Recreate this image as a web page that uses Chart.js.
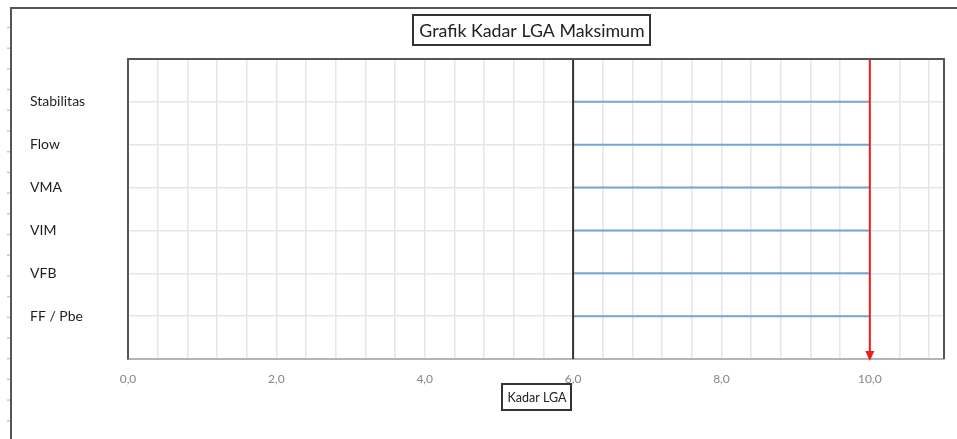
<!DOCTYPE html>
<html>
<head>
<meta charset="utf-8">
<script src="https://cdn.jsdelivr.net/npm/chart.js@4.4.1/dist/chart.umd.min.js"></script>
<style>
    body { margin: 0; background: #fff; }
    #wadah { width: 957px; height: 439px; position: relative; }
</style>
</head>
<body>
<div id="wadah"><canvas id="grafikLGA"></canvas></div>
<script>
// Data grafik
const parameters = ['Stabilitas', 'Flow', 'VMA', 'VIM', 'VFB', 'FF / Pbe'];
const posisiBaris = [1, 2, 3, 4, 5, 6];
const kadarAwal = [6, 6, 6, 6, 6, 6];
const kadarAkhir = [10, 10, 10, 10, 10, 10];
const batasKiri = 6;        // garis hitam
const kadarMaksimum = 10;   // garis merah (panah)
const sumbuXMin = 0, sumbuXMax = 11, sumbuXStep = 0.4, labelStep = 2;
const sumbuYMin = 0, sumbuYMax = 7;
const judul = 'Grafik Kadar LGA Maksimum';
const judulSumbuX = 'Kadar LGA';

const FONT = 'Lato, "Open Sans", sans-serif';

document.addEventListener('DOMContentLoaded', function () {
    initGrafikLGA();
});

function initGrafikLGA() {
    const ctx = document.getElementById('grafikLGA').getContext('2d');

    const datasets = [];
    // garis merah dulu supaya tergambar paling atas
    datasets.push({
        data: [{ x: kadarMaksimum, y: sumbuYMin }, { x: kadarMaksimum, y: sumbuYMax }],
        borderColor: '#ee1c1c', borderWidth: 2, showLine: true, pointRadius: 0
    });
    datasets.push({
        data: [{ x: batasKiri, y: sumbuYMin }, { x: batasKiri, y: sumbuYMax }],
        borderColor: '#333333', borderWidth: 2, showLine: true, pointRadius: 0
    });
    parameters.forEach(function (p, i) {
        datasets.push({
            label: p,
            data: [{ x: kadarAwal[i], y: posisiBaris[i] }, { x: kadarAkhir[i], y: posisiBaris[i] }],
            borderColor: 'rgba(91,155,213,0.85)', borderWidth: 2, showLine: true, pointRadius: 0
        });
    });

    const bingkai = {
        id: 'bingkai',
        beforeDraw(chart) {
            const c = chart.ctx;
            c.save();
            c.fillStyle = '#fff';
            c.fillRect(0, 0, chart.width, chart.height);
            // tanda kecil di sisi kiri
            c.strokeStyle = '#c8c8c8';
            c.lineWidth = 1.5;
            for (let y = 27.5; y < chart.height; y += 20.7) {
                c.beginPath(); c.moveTo(7, y); c.lineTo(10, y); c.stroke();
            }
            // bingkai luar
            c.strokeStyle = '#555';
            c.lineWidth = 2;
            c.beginPath();
            c.moveTo(11, chart.height); c.lineTo(11, 8); c.lineTo(chart.width, 8);
            c.stroke();
            c.restore();
        },
        afterDraw(chart) {
            const c = chart.ctx;
            const a = chart.chartArea;
            const sx = chart.scales.x, sy = chart.scales.y;
            c.save();
            // sisi atas & kanan area plot
            c.strokeStyle = '#555';
            c.lineWidth = 2;
            c.beginPath();
            c.moveTo(a.left, a.top); c.lineTo(a.right, a.top); c.lineTo(a.right, a.bottom);
            c.stroke();

            // kepala panah merah
            const px = sx.getPixelForValue(kadarMaksimum);
            const py = sy.getPixelForValue(sumbuYMax);
            c.fillStyle = '#ee1c1c';
            c.beginPath();
            c.moveTo(px - 4.5, py - 8); c.lineTo(px + 4.5, py - 8); c.lineTo(px, py + 2);
            c.closePath(); c.fill();

            // judul dengan kotak
            c.font = '17.8px ' + FONT;
            c.fillStyle = '#222';
            c.textAlign = 'center';
            c.textBaseline = 'middle';
            c.fillText(judul, 532, 31);
            c.strokeStyle = '#333';
            c.lineWidth = 2;
            c.strokeRect(413, 15, 237, 30);

            // judul sumbu x dengan kotak
            c.font = '12.5px ' + FONT;
            const cx = (a.left + a.right) / 2;
            c.fillText(judulSumbuX, cx + 1, 397.5);
            c.strokeRect(502, 384, 69, 26);
            c.restore();
        }
    };

    new Chart(ctx, {
        type: 'scatter',
        data: { datasets: datasets },
        options: {
            responsive: true,
            maintainAspectRatio: false,
            animation: false,
            layout: { padding: { left: 30, top: 59, right: 13, bottom: 0 } },
            plugins: {
                legend: { display: false },
                tooltip: { enabled: false }
            },
            scales: {
                x: {
                    type: 'linear',
                    min: sumbuXMin, max: sumbuXMax,
                    afterFit: function (s) { s.height = 80; },
                    afterBuildTicks: function (s) {
                        const t = [];
                        for (let v = sumbuXMin; v < sumbuXMax + 1e-9; v += sumbuXStep) t.push({ value: +v.toFixed(2) });
                        s.ticks = t;
                    },
                    grid: { color: '#e6e6e6', lineWidth: 1.5, drawTicks: false },
                    border: { color: '#b4b4b4', width: 2 },
                    ticks: {
                        autoSkip: false, maxRotation: 0, padding: 13,
                        color: '#858585',
                        font: { family: FONT, size: 12 },
                        callback: function (v) {
                            const r = v / labelStep;
                            if (Math.abs(r - Math.round(r)) < 1e-6 && v <= 10) return v.toFixed(1).replace('.', ',');
                            return '';
                        }
                    }
                },
                y: {
                    type: 'linear',
                    reverse: true,
                    min: sumbuYMin, max: sumbuYMax,
                    afterFit: function (s) { s.width = 98; },
                    grid: { color: '#e6e6e6', lineWidth: 1.5, drawTicks: false },
                    border: { color: '#555', width: 2 },
                    ticks: {
                        stepSize: 1,
                        crossAlign: 'far',
                        color: '#1e1e1e',
                        font: { family: FONT, size: 14 },
                        callback: function (v) {
                            const i = posisiBaris.indexOf(v);
                            return i >= 0 ? parameters[i] : '';
                        }
                    }
                }
            }
        },
        plugins: [bingkai]
    });
}
</script>
</body>
</html>
